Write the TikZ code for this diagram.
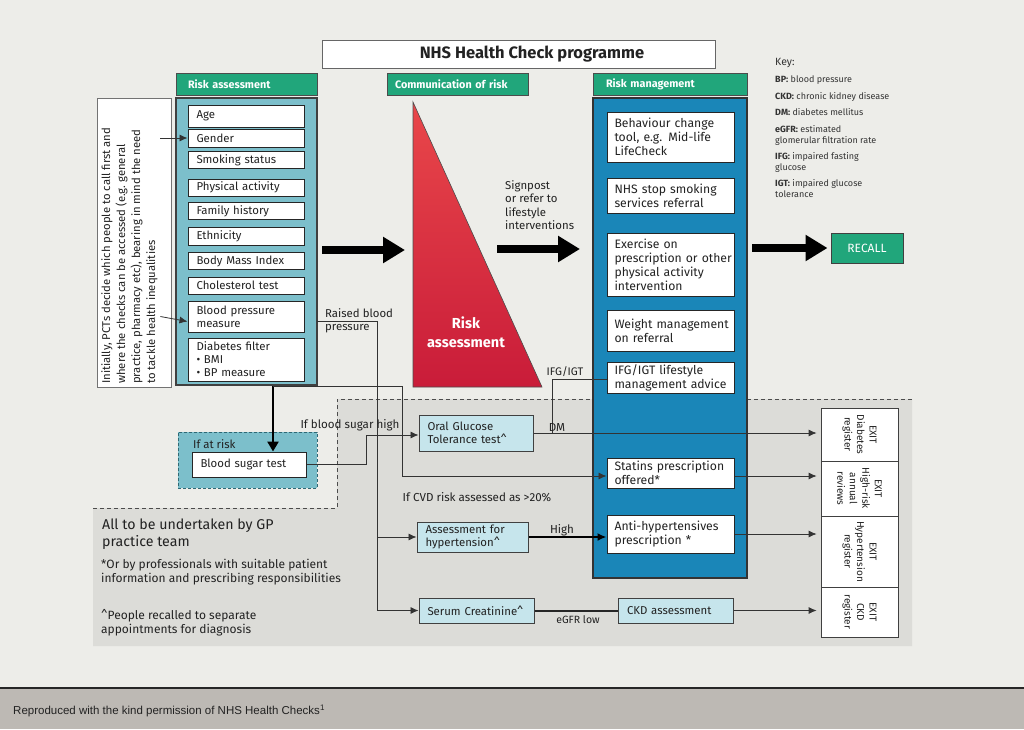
\documentclass[tikz,border=0pt]{standalone}
\usepackage{fontspec}
\setmainfont{Fira Sans}
\newfontfamily\arialf{Liberation Sans}
\usetikzlibrary{arrows.meta}
\definecolor{bg}{HTML}{EDEDE9}
\definecolor{greyreg}{HTML}{DCDCD8}
\definecolor{band}{HTML}{BDB9B4}
\definecolor{hgreen}{HTML}{21A67B}
\definecolor{rapfill}{HTML}{7CBFCB}
\definecolor{rmblue}{HTML}{1A86B8}
\definecolor{lbfill}{HTML}{C6E5EC}
\definecolor{txt}{HTML}{222222}
\definecolor{redtop}{HTML}{E9474A}
\definecolor{redbot}{HTML}{C91C39}
\definecolor{dteal}{HTML}{2E6874}
\newcommand\myfs[2]{\fontsize{#1}{#2}\selectfont\hyphenpenalty=10000\exhyphenpenalty=10000}
\begin{document}
\begin{tikzpicture}[x=1pt,y=-1pt,
  every node/.style={text=txt},
  wb/.style={draw=black!85, line width=1pt, fill=white, inner xsep=8.5pt, inner ysep=1pt, align=left, font=\myfs{11.4}{13}},
  rb/.style={wb, inner xsep=7.5pt, font=\myfs{12.2}{14}},
  lb/.style={draw=black!75, line width=1pt, fill=lbfill, inner xsep=8.5pt, inner ysep=1pt, align=left, font=\myfs{11.4}{13}},
  hdr/.style={draw=black!70, line width=1pt, fill=hgreen, text=white, font=\bfseries\myfs{10.8}{12}, minimum height=22pt, inner xsep=12pt, align=left},
  conn/.style={draw=black!80, line width=0.8pt},
  arr/.style={conn, -{Latex[length=8pt,width=7pt]}},
  big/.style={line width=7.5pt, -{Triangle[length=22pt,width=25pt]}},
  lab/.style={font=\myfs{11.6}{13}, inner sep=0pt},
  keyt/.style={font=\myfs{9}{11}, text=black!80, anchor=north west, align=left, inner sep=0pt},
  exitb/.style={draw=black!75, line width=0.8pt, fill=white, minimum width=77pt, inner sep=0pt},
  exitt/.style={rotate=-90, align=center, font=\myfs{10}{12.5}, inner sep=0pt},
  dashl/.style={draw=black!70, line width=0.9pt, dash pattern=on 4pt off 3pt}]
\useasboundingbox (0,0) rectangle (1024,729);
% background
\fill[bg] (0,0) rectangle (1024,688);
\fill[band] (0,688) rectangle (1024,729);
\draw[line width=2.5pt, black!85] (0,688) -- (1024,688);
\fill[greyreg] (93,508) -- (337,508) -- (337,399) -- (912,399) -- (912,646) -- (93,646) -- cycle;
\draw[dashl] (93,508) -- (337,508) -- (337,399) -- (912,399);
\node[anchor=west, font=\arialf\myfs{11.5}{13}, inner sep=0pt] (credit) at (13,711) {Reproduced with the kind permission of NHS Health Checks\textsuperscript{1}};

% title and headers
\node[draw=black!60, line width=0.8pt, fill=white, minimum width=393pt, minimum height=28pt, font=\bfseries\myfs{16.5}{19}] (title) at (518.5,54.5) {\hspace*{27pt}NHS Health Check programme};
\node[hdr, text width=117pt] (h1) at (246.5,84) {Risk assessment};
\node[hdr, inner xsep=8pt, text width=125pt] (h2) at (457.5,84) {Communication~of~risk};
\node[hdr, inner xsep=13pt, text width=128pt] (h3) at (670,84) {Risk management};

% left box
\node[draw=black!55, line width=0.8pt, fill=white, minimum width=74pt, minimum height=289pt] (lbox) at (134,242.5) {};
\node[rotate=90, anchor=north west, align=left, font=\myfs{11.3}{15}, inner sep=0pt] (ltext) at (101,384) {Initially,~PCTs~decide~which~people~to~call~first~and\\where~the~checks~can~be~accessed~(e.g.~general\\practice,~pharmacy~etc),~bearing~in~mind~the~need\\to~tackle~health~inequalities};

% risk assessment panel
\node[draw=black!75, line width=1.1pt, fill=rapfill, minimum width=141pt, minimum height=287pt] (rap) at (246.5,241.5) {};
\node[wb, text width=99pt, minimum height=22pt] (age) at (246,116) {Age};
\node[wb, text width=99pt, minimum height=18pt] (gender) at (246,138) {Gender};
\node[wb, text width=99pt, minimum height=17pt] (smoke) at (246,160) {Smoking status};
\node[wb, text width=99pt, minimum height=17pt] (phys) at (246,187.5) {Physical activity};
\node[wb, text width=99pt, minimum height=17pt] (fam) at (246,211) {Family history};
\node[wb, text width=99pt, minimum height=18pt] (eth) at (246,236) {Ethnicity};
\node[wb, text width=99pt, minimum height=17pt] (bmi) at (246,261) {Body Mass Index};
\node[wb, text width=99pt, minimum height=17pt] (chol) at (246,285.5) {Cholesterol test};
\node[wb, text width=99pt, minimum height=31pt] (bp) at (246,316.5) {Blood pressure\\measure};
\node[wb, text width=99pt, minimum height=43pt] (diab) at (246,359.5) {Diabetes filter\\• BMI\\• BP measure};
\coordinate (la) at ([xshift=-11pt]lbox.east);
\draw[arr] (la |- gender.west) -- (gender.west);
\draw[arr] (la |- bp.west) -- ([yshift=-5pt]bp.west);

% triangle
\coordinate (ttop) at (413,102);
\coordinate (tbl) at (413,387);
\coordinate (tbr) at (542,387);
\shade[top color=redtop, bottom color=redbot] (ttop) -- (tbl) -- (tbr) -- cycle;
\draw[black!70, line width=0.6pt] (ttop) -- (tbl) -- (tbr) -- cycle;
\node[font=\bfseries\myfs{14.5}{19}, text=white, align=center] (trilab) at (466,332) {Risk\\assessment};

% big arrows
\coordinate (a1s) at (322,250);
\coordinate (a1e) at (405,250);
\draw[big] (a1s) -- (a1e);
\coordinate (a2s) at (497,249);
\coordinate (a2e) at (580,249);
\draw[big] (a2s) -- (a2e);
\node[anchor=north west, align=left, font=\myfs{11.4}{13.6}, inner sep=0pt] (sign) at (505,180) {Signpost\\or refer to\\lifestyle\\interventions};

% risk management panel
\node[draw=black!80, line width=1.1pt, fill=rmblue, minimum width=154pt, minimum height=480pt] (rmp) at (670,338) {};
\node[rb, text width=112pt, minimum height=50pt] (beh) at (670.5,137) {\mbox{Behaviour change}\\\mbox{tool, e.g. Mid-life}\\LifeCheck};
\node[rb, text width=112pt, minimum height=35pt] (nhs) at (670.5,195.5) {\mbox{NHS stop smoking}\\\mbox{services referral}};
\node[rb, text width=112pt, minimum height=63pt] (ex) at (670.5,264.5) {Exercise on\\\mbox{prescription or other}\\\mbox{physical activity}\\intervention};
\node[rb, text width=112pt, minimum height=41pt] (wt) at (670.5,330.5) {\mbox{Weight management}\\on referral};
\node[rb, text width=112pt, minimum height=31pt] (ifg) at (670.5,377.5) {\mbox{IFG/IGT lifestyle}\\\mbox{management advice}};
\node[rb, text width=112pt, minimum height=30pt] (stat) at (670.5,473) {\mbox{Statins prescription}\\offered*};
\node[rb, text width=112pt, minimum height=38pt] (anti) at (670.5,534) {\mbox{Anti-hypertensives}\\prescription *};

% recall
\node[draw=black!75, line width=1pt, fill=hgreen, text=white, font=\myfs{12}{14}, minimum width=72pt, minimum height=30pt] (recall) at (867,248) {RECALL};
\coordinate (a3s) at (752,248);
\draw[big] (a3s) -- ([xshift=-3pt]recall.west);

% key
\node[anchor=north west, font=\myfs{10.5}{12}, text=black!80, inner sep=0pt] (keyh) at (775,58) {Key:};
\node[keyt] (k1) at (775,76) {\textbf{BP:} blood pressure};
\node[keyt] (k2) at (775,92) {\textbf{CKD:} chronic kidney disease};
\node[keyt] (k3) at (775,108) {\textbf{DM:} diabetes mellitus};
\node[keyt] (k4) at (775,125) {\textbf{eGFR:} estimated\\glomerular filtration rate};
\node[keyt] (k5) at (775,152) {\textbf{IFG:} impaired fasting\\glucose};
\node[keyt] (k6) at (775,179) {\textbf{IGT:} impaired glucose\\tolerance};

% lower part
\node[draw=dteal, line width=1pt, dash pattern=on 3pt off 2pt, fill=rapfill, minimum width=139pt, minimum height=56pt] (riskbox) at (247.5,460) {};
\node[anchor=west, font=\myfs{11.4}{13}, inner sep=0pt] (ifrisk) at (193,444) {If at risk};
\node[wb, text width=97pt, minimum height=25pt] (bst) at (249,464.5) {Blood sugar test};

\node[lb, text width=97pt, minimum height=36pt] (ogtt) at (476,433) {Oral Glucose\\\mbox{Tolerance test\textasciicircum}};
\node[lb, text width=94pt, minimum height=30pt] (hyp) at (472.5,537) {\mbox{Assessment for}\\hypertension\textasciicircum};
\node[lb, text width=98pt, minimum height=25pt] (ser) at (476.5,610.5) {\mbox{Serum Creatinine\textasciicircum}};
\node[lb, inner xsep=9pt, text width=97pt, minimum height=25pt] (ckd) at (675.5,610.5) {CKD assessment};

% exit column
\node[exitb, minimum height=53pt] (exd) at (859.5,434.5) {};
\node[exitb, minimum height=55pt] (exh) at (859.5,488.5) {};
\node[exitb, minimum height=71pt] (exy) at (859.5,551.5) {};
\node[exitb, minimum height=50pt] (exc) at (859.5,612) {};
\node[exitt] (exdt) at (exd.center) {EXIT\\Diabetes\\register};
\node[exitt] (exht) at (exh.center) {EXIT\\High-risk\\annual\\reviews};
\node[exitt] (exyt) at (exy.center) {EXIT\\Hypertension\\register};
\node[exitt] (exct) at (exc.center) {EXIT\\CKD\\register};

% connectors
\coordinate (dsplit) at (273,386);
\draw[line width=2.5pt, -{Triangle[length=10pt,width=11pt]}] (dsplit |- rap.south) -- (dsplit |- bst.north);
\coordinate (cvx) at (402,386);
\draw[arr] (dsplit) -- (cvx) |- ([yshift=-3pt]stat.west);

\coordinate (rbp) at (317,321);
\coordinate (rbx) at (377,321);
\draw[conn] (rbp) -- (rbx) -- (rbx |- ser.west);
\draw[arr] (rbx |- hyp.west) -- (hyp.west);
\draw[arr] (rbx |- ser.west) -- (ser.west);

\coordinate (bsx) at (366,464.5);
\draw[arr] (bst.east) -- (bsx) |- ([yshift=-2pt]ogtt.west);

\draw[arr, shorten >=4pt] (ogtt.east) -- (ogtt.east -| exd.west);
\coordinate (ifx) at (552,433);
\draw[conn] (ifx) |- ([yshift=-2pt]ifg.west);
\draw[arr, shorten >=4pt] ([yshift=-3pt]stat.east) -- ([yshift=-3pt]stat.east -| exh.west);
\draw[line width=2pt, -{Latex[length=9pt,width=8pt]}] (hyp.east) -- (hyp.east -| anti.west);
\draw[arr, shorten >=4pt] (anti.east) -- (anti.east -| exy.west);
\draw[line width=2pt, black!85] (ser.east) -- (ckd.west);
\draw[arr, shorten >=4pt] (ckd.east) -- (ckd.east -| exc.west);

% labels
\node[anchor=north west, align=left, font=\myfs{11.4}{13}, inner sep=0pt] (rbplab) at (325,308) {Raised blood\\pressure};
\node[lab] (bshigh) at (350,425) {If blood sugar high};
\node[lab] (dmlab) at (557,427) {DM};
\node[lab, font=\myfs{11}{12}] (ifglab) at (565,372) {IFG/IGT};
\node[lab] (cvdlab) at (477,497) {If CVD risk assessed as >20\%};
\node[lab] (highlab) at (562,530) {High};
\node[lab, font=\myfs{10.5}{12}] (egfr) at (578,620) {eGFR low};

% grey area notes
\node[anchor=north west, align=left, font=\myfs{14.2}{16.5}, inner sep=0pt] (gp) at (102,519) {All to be undertaken by GP\\practice team};
\node[anchor=north west, align=left, font=\myfs{12}{14}, inner sep=0pt] (note1) at (101,559) {*Or by professionals with suitable patient\\information and prescribing responsibilities};
\node[anchor=north west, align=left, font=\myfs{12}{14}, inner sep=0pt] (note2) at (101,609) {\textasciicircum People recalled to separate\\appointments for diagnosis};
\end{tikzpicture}
\end{document}
